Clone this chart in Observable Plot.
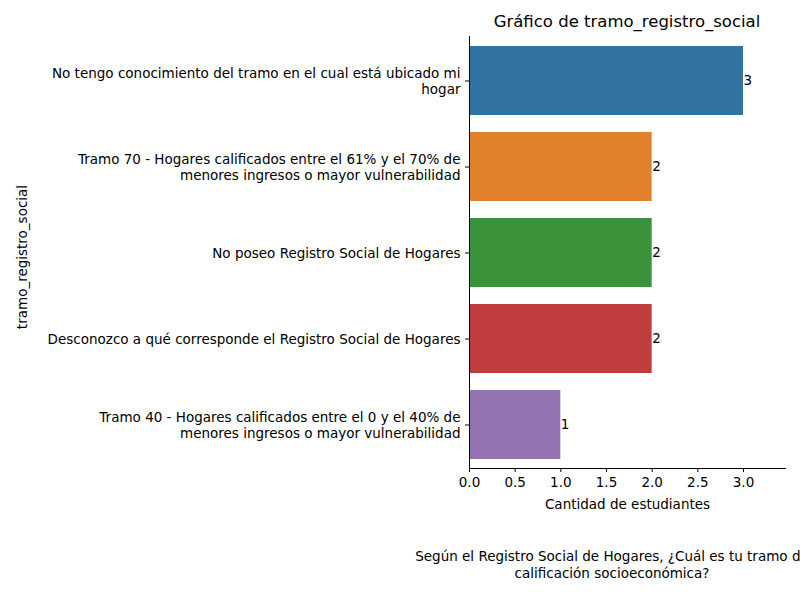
<!DOCTYPE html>
<html><head><meta charset="utf-8">
<script src="https://cdn.jsdelivr.net/npm/d3@7"></script>
<script src="https://cdn.jsdelivr.net/npm/@observablehq/plot@0.6"></script>
<style>
body{margin:0;background:#fff;font-family:"DejaVu Sans",sans-serif;}
#wrap{position:relative;width:800px;height:600px;overflow:hidden;}
.t{position:absolute;white-space:nowrap;color:#000;}
</style></head>
<body><div id="wrap">
<div class="t" style="left:627px;top:12px;transform:translateX(-50%);font-size:16.5px">Gráfico de tramo_registro_social</div>
<div class="t" style="left:22px;top:257px;transform:translate(-50%,-50%) rotate(-90deg);font-size:13.5px">tramo_registro_social</div>
<div class="t" style="left:612px;top:548px;transform:translateX(-50%);font-size:13.5px;text-align:center;line-height:17px">Según el Registro Social de Hogares, ¿Cuál es tu tramo de<br>calificación socioeconómica?</div>
</div>
<script>
const categories = [
  "No tengo conocimiento del tramo en el cual está ubicado mi\nhogar",
  "Tramo 70 - Hogares calificados entre el 61% y el 70% de\nmenores ingresos o mayor vulnerabilidad",
  "No poseo Registro Social de Hogares",
  "Desconozco a qué corresponde el Registro Social de Hogares",
  "Tramo 40 - Hogares calificados entre el 0 y el 40% de\nmenores ingresos o mayor vulnerabilidad"
];
const counts = [3, 2, 2, 2, 1];
const colors = ["#3274a1", "#e1812c", "#3a923a", "#c03d3e", "#9372b2"];
const data = categories.map((c, i) => ({cat: c, n: counts[i], color: colors[i]}));

const chart = Plot.plot({
  width: 800, height: 600,
  marginLeft: 469, marginRight: 15, marginTop: 36, marginBottom: 132,
  style: {fontFamily: "DejaVu Sans, sans-serif", fontSize: "13.5px", color: "#000", background: "transparent", overflow: "visible"},
  x: {domain: [0, 3.46], label: null},
  y: {domain: categories, paddingInner: 0.2, paddingOuter: 0.1, label: null},
  marks: [
    Plot.barX(data, {x: "n", y: "cat", fill: "color"}),
    Plot.text(data, {x: "n", y: "cat", text: d => String(d.n), textAnchor: "start", fill: "black", fontSize: 13.5}),
    Plot.ruleX([0], {stroke: "black"}),
    Plot.frame({anchor: "bottom", stroke: "black"}),
    Plot.axisX({ticks: d3.range(0, 3.01, 0.5), tickFormat: d3.format(".1f"), tickSize: 4, tickPadding: 5, fontSize: 13.5, label: "Cantidad de estudiantes", labelAnchor: "center", labelOffset: 40, labelArrow: "none"}),
    Plot.axisY({tickSize: 4, label: null, fontSize: 13.5, lineHeight: 1.15})
  ]
});
document.getElementById("wrap").prepend(chart);
chart.style.position = "absolute"; chart.style.left = "0"; chart.style.top = "0";
</script>
</body></html>
